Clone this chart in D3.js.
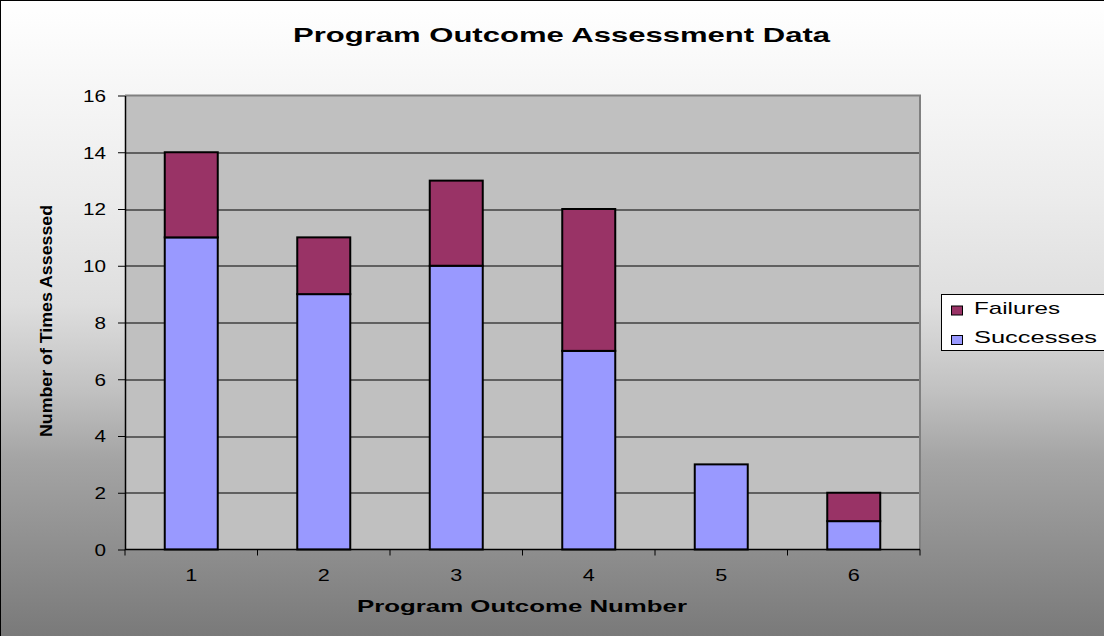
<!DOCTYPE html>
<html>
<head>
<meta charset="utf-8">
<script src="https://cdn.jsdelivr.net/npm/d3@7"></script>
<style>
  body { margin: 0; padding: 0; overflow: hidden; }
  text { font-family: Arial, "Liberation Sans", sans-serif; }
</style>
</head>
<body>
<div id="chart-area"></div>
<script>
// data
var outcomes = ["1", "2", "3", "4", "5", "6"];
var successes = [11, 9, 10, 7, 3, 1];
var failures = [3, 2, 3, 5, 0, 1];
var seriesNames = ["Successes", "Failures"];
var yTicks = [0, 2, 4, 6, 8, 10, 12, 14, 16];

var W = 1104, H = 636;
var margin = {top: 95.5, left: 125, right: 184, bottom: 86.5};
var width = W - margin.left - margin.right;
var height = H - margin.top - margin.bottom;

var colors = {Successes: "#9999ff", Failures: "#993366"};

var svg = d3.select("#chart-area")
  .append("svg")
    .attr("width", W)
    .attr("height", H);

var grad = svg.append("defs").append("linearGradient")
    .attr("id", "bg")
    .attr("x1", 0).attr("y1", 0).attr("x2", 0).attr("y2", 1);
[[0, "#ffffff"], [0.3, "#ececec"], [0.47, "#dedede"], [0.6, "#c2c2c2"],
 [0.71, "#a4a4a4"], [1, "#777777"]].forEach(function(s) {
  grad.append("stop").attr("offset", s[0]).attr("stop-color", s[1]);
});

svg.append("rect")
  .attr("x", 0.5).attr("y", 0.5)
  .attr("width", W + 10).attr("height", H + 10)
  .attr("fill", "url(#bg)")
  .attr("stroke", "#000")
  .attr("stroke-width", 1);

var g = svg.append("g")
  .attr("transform", "translate(" + margin.left + "," + margin.top + ")");

var x = d3.scaleBand().domain(outcomes).range([0, width]).paddingInner(0.6).paddingOuter(0.3);
var xb = d3.scaleBand().domain(outcomes).range([0, width]);
var y = d3.scaleLinear().domain([0, 16]).range([height, 0]);

// plot area
g.append("rect")
  .attr("width", width).attr("height", height)
  .attr("fill", "#c0c0c0");

// gridlines
g.selectAll(".grid")
  .data(yTicks.filter(function(d) { return d > 0 && d < 16; }))
  .enter().append("line")
    .attr("x1", 0).attr("x2", width)
    .attr("y1", function(d) { return Math.round(y(d)) + 0.5; })
    .attr("y2", function(d) { return Math.round(y(d)) + 0.5; })
    .attr("stroke", "#000")
    .attr("stroke-width", 1);

// top / right border
g.append("path")
  .attr("d", "M0,0H" + width + "V" + height)
  .attr("fill", "none")
  .attr("stroke", "#808080")
  .attr("stroke-width", 2);

// stacked bars
var table = outcomes.map(function(o, i) {
  return {outcome: o, Successes: successes[i], Failures: failures[i]};
});
var stacked = d3.stack().keys(seriesNames)(table);

stacked.forEach(function(layer) {
  g.selectAll(".bar-" + layer.key)
    .data(layer.filter(function(d) { return d[1] > d[0]; }))
    .enter().append("rect")
      .attr("x", function(d) { return x(d.data.outcome); })
      .attr("y", function(d) { return y(d[1]); })
      .attr("width", x.bandwidth())
      .attr("height", function(d) { return y(d[0]) - y(d[1]); })
      .attr("fill", colors[layer.key])
      .attr("stroke", "#000")
      .attr("stroke-width", 2);
});

// y axis
var yAxis = g.append("g")
  .call(d3.axisLeft(y).tickValues(yTicks).tickSize(7).tickSizeOuter(0).tickPadding(12));
yAxis.select(".domain").attr("stroke", "#000").attr("stroke-width", 1.5);
yAxis.selectAll(".tick text")
  .attr("font-size", "16px")
  .attr("fill", "#000")
  .attr("dy", "0.36em")
  .attr("textLength", function(d) { return d >= 10 ? 23 : 11.5; })
  .attr("lengthAdjust", "spacingAndGlyphs");

// x axis: ticks at band edges
var xAxisG = g.append("g").attr("transform", "translate(0," + height + ")");
xAxisG.append("line")
  .attr("x1", 0).attr("x2", width)
  .attr("stroke", "#000").attr("stroke-width", 1.5);
var edges = outcomes.map(function(o) { return xb(o); }).concat([width]);
xAxisG.selectAll(".xtick")
  .data(edges)
  .enter().append("line")
    .attr("x1", function(d) { return d; })
    .attr("x2", function(d) { return d; })
    .attr("y1", 0).attr("y2", 6)
    .attr("stroke", "#000");
xAxisG.selectAll(".xlabel")
  .data(outcomes)
  .enter().append("text")
    .attr("x", function(d) { return xb(d) + xb.bandwidth() / 2; })
    .attr("y", 31)
    .attr("text-anchor", "middle")
    .attr("font-size", "16px")
    .attr("textLength", 12)
    .attr("lengthAdjust", "spacingAndGlyphs")
    .text(function(d) { return d; });

// title
svg.append("text")
  .attr("x", 293).attr("y", 42)
  .attr("font-size", "21px")
  .attr("font-weight", "bold")
  .attr("textLength", 537)
  .attr("lengthAdjust", "spacingAndGlyphs")
  .text("Program Outcome Assessment Data");

// x label
svg.append("text")
  .attr("x", 357).attr("y", 612)
  .attr("font-size", "17px")
  .attr("font-weight", "bold")
  .attr("textLength", 330)
  .attr("lengthAdjust", "spacingAndGlyphs")
  .text("Program Outcome Number");

// y label
svg.append("text")
  .attr("transform", "translate(52,437) rotate(-90)")
  .attr("font-size", "16px")
  .attr("font-weight", "bold")
  .attr("textLength", 232)
  .attr("lengthAdjust", "spacingAndGlyphs")
  .text("Number of Times Assessed");

// legend
var legend = svg.append("g").attr("transform", "translate(941.5,294.5)");
legend.append("rect")
  .attr("width", 200).attr("height", 56)
  .attr("fill", "#fff")
  .attr("stroke", "#000");
["Failures", "Successes"].forEach(function(name, i) {
  var row = legend.append("g").attr("transform", "translate(0," + (i * 29.5) + ")");
  row.append("rect")
    .attr("x", 10).attr("y", 11.5)
    .attr("width", 11).attr("height", 9)
    .attr("fill", colors[name])
    .attr("stroke", "#000");
  row.append("text")
    .attr("x", 32.5).attr("y", 19)
    .attr("font-size", "17px")
    .attr("textLength", name === "Failures" ? 86 : 123)
    .attr("lengthAdjust", "spacingAndGlyphs")
    .text(name);
});
</script>
</body>
</html>
